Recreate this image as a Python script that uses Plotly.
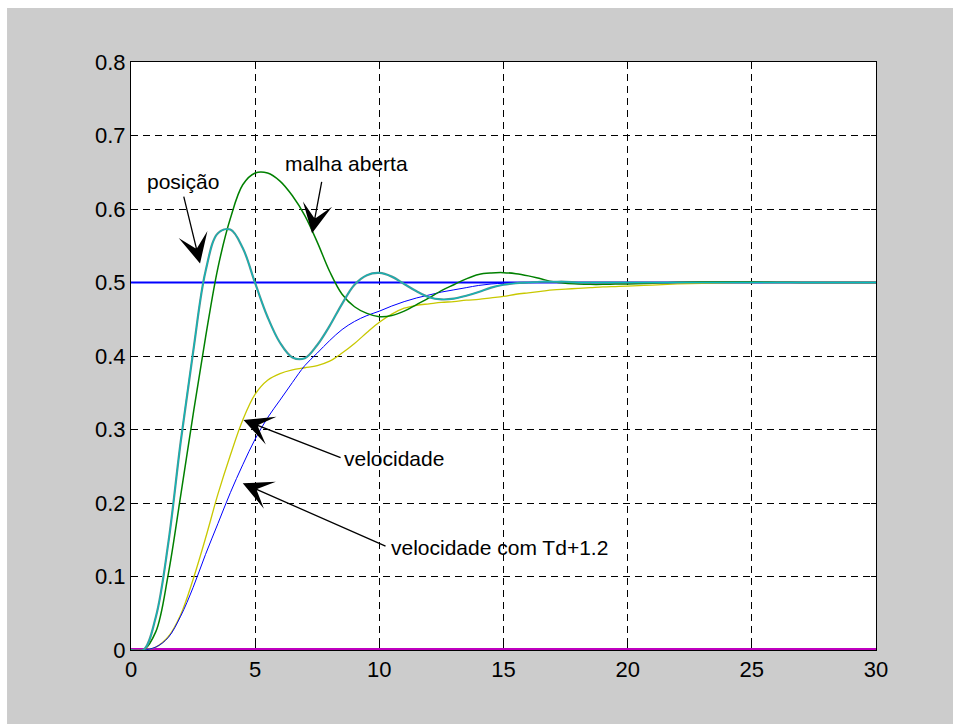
import plotly.graph_objects as go

# time axis (s)
t = [0, 0.5, 1, 1.5, 2, 2.5, 3, 3.5, 4, 4.5, 5, 5.5, 6, 6.5, 7, 7.5, 8, 8.5, 9, 9.5,
     10, 10.5, 11, 11.5, 12, 12.5, 13, 13.5, 14, 14.5, 15, 15.5, 16, 16.5, 17, 17.5,
     18, 18.5, 19, 19.5, 20, 21, 22, 23, 24, 25, 26, 27, 28, 29, 30]

posicao = [0, 0.0, 0.045, 0.145, 0.283, 0.405, 0.515, 0.567, 0.572, 0.547, 0.499, 0.453,
           0.418, 0.398, 0.397, 0.415, 0.441, 0.471, 0.497, 0.510, 0.513, 0.508, 0.498,
           0.488, 0.480, 0.477, 0.478, 0.482, 0.487, 0.493, 0.497, 0.499, 0.500, 0.501,
           0.501, 0.501, 0.500, 0.500, 0.500, 0.500, 0.500, 0.5, 0.5, 0.5, 0.5, 0.5,
           0.5, 0.5, 0.5, 0.5, 0.5]

malha_aberta = [0, 0.0, 0.025, 0.103, 0.21, 0.32, 0.425, 0.52, 0.587, 0.633, 0.649, 0.649,
                0.638, 0.618, 0.591, 0.555, 0.515, 0.484, 0.467, 0.458, 0.4535, 0.455,
                0.461, 0.47, 0.479, 0.489, 0.497, 0.505, 0.511, 0.513, 0.5134, 0.512,
                0.509, 0.505, 0.501, 0.499, 0.498, 0.4975, 0.4975, 0.4978, 0.498, 0.499,
                0.5005, 0.501, 0.501, 0.501, 0.5005, 0.5, 0.5, 0.5, 0.5]

velocidade = [0, 0.0, 0.004, 0.018, 0.048, 0.096, 0.152, 0.212, 0.265, 0.313, 0.348, 0.367,
              0.376, 0.381, 0.384, 0.387, 0.393, 0.404, 0.417, 0.432, 0.446, 0.457, 0.465,
              0.469, 0.471, 0.473, 0.474, 0.476, 0.477, 0.479, 0.481, 0.484, 0.486, 0.488,
              0.490, 0.491, 0.492, 0.493, 0.494, 0.4945, 0.495, 0.4965, 0.498, 0.499,
              0.4995, 0.5, 0.5, 0.5, 0.5, 0.5, 0.5]

velocidade_td = [0, 0.0, 0.004, 0.017, 0.046, 0.085, 0.13, 0.172, 0.214, 0.252, 0.287, 0.316,
                 0.34, 0.364, 0.387, 0.404, 0.421, 0.436, 0.447, 0.455, 0.461, 0.468, 0.474,
                 0.479, 0.483, 0.487, 0.49, 0.493, 0.496, 0.498, 0.499, 0.4995, 0.5, 0.5005,
                 0.5005, 0.5, 0.5, 0.5, 0.5, 0.5, 0.5, 0.5, 0.5, 0.5, 0.5, 0.5, 0.5, 0.5,
                 0.5, 0.5, 0.5]

referencia_t = [0, 30]
referencia = [0.5, 0.5]
zero_line = [0, 0]

x_ticks = [0, 5, 10, 15, 20, 25, 30]
y_ticks = [0, 0.1, 0.2, 0.3, 0.4, 0.5, 0.6, 0.7, 0.8]
y_tick_labels = ["0", "0.1", "0.2", "0.3", "0.4", "0.5", "0.6", "0.7", "0.8"]

FONT = "Liberation Sans, Arial, sans-serif"
SM = 1.0

fig = go.Figure()
fig.add_trace(go.Scatter(x=referencia_t, y=zero_line, mode="lines",
                         line=dict(color="#bf00bf", width=4)))
fig.add_trace(go.Scatter(x=referencia_t, y=referencia, mode="lines",
                         line=dict(color="#0000ff", width=2)))
fig.add_trace(go.Scatter(x=t, y=velocidade, mode="lines",
                         line=dict(color="#c8c800", width=1.3, shape="spline", smoothing=SM)))
fig.add_trace(go.Scatter(x=t, y=velocidade_td, mode="lines",
                         line=dict(color="#0000ff", width=1, shape="spline", smoothing=SM)))
fig.add_trace(go.Scatter(x=t, y=malha_aberta, mode="lines",
                         line=dict(color="#008000", width=1.5, shape="spline", smoothing=SM)))
fig.add_trace(go.Scatter(x=t, y=posicao, mode="lines",
                         line=dict(color="#5a8f8f", width=2.2, shape="spline", smoothing=SM)))
fig.add_trace(go.Scatter(x=t, y=posicao, mode="lines",
                         line=dict(color="#00bfbf", width=1, shape="spline", smoothing=SM)))

axis_common = dict(
    showgrid=True, gridcolor="black", gridwidth=1, griddash="7px,5px",
    showline=True, linecolor="black", linewidth=1, mirror="ticks",
    ticks="inside", ticklen=5, tickcolor="black", zeroline=False,
    layer="below traces",
    tickfont=dict(family=FONT, size=22, color="black"),
)
fig.update_xaxes(range=[0, 30], tickvals=x_ticks, **axis_common)
fig.update_yaxes(range=[0, 0.8], tickvals=y_ticks, ticktext=y_tick_labels, **axis_common)

# background: gray figure area with white plot box
shapes = [
    dict(type="rect", xref="paper", yref="paper", x0=-0.1664, x1=1.11, y0=-0.13, y1=1.0918,
         fillcolor="#cccccc", line=dict(width=0), layer="below"),
    dict(type="rect", xref="paper", yref="paper", x0=0, x1=1, y0=0, y1=1,
         fillcolor="white", line=dict(width=0), layer="below"),
]

annotations = []
labels = [
    ("posição", 2.08, 0.637),
    ("malha aberta", 8.69, 0.662),
    ("velocidade", 10.6, 0.2605),
    ("velocidade com Td+1.2", 14.84, 0.1395),
]
for txt, lx, ly in labels:
    annotations.append(dict(x=lx, y=ly, xref="x", yref="y", text=txt, showarrow=False,
                            font=dict(family=FONT, size=21, color="black"),
                            xanchor="center", yanchor="middle"))

arrows = [
    ((2.11, 0.619), (2.78, 0.526)),
    ((7.69, 0.639), (7.29, 0.567)),
    ((8.5, 0.261), (4.53, 0.313)),
    ((10.31, 0.1405), (4.5, 0.2268)),
]
for (ax_, ay_), (tx, ty) in arrows:
    annotations.append(dict(x=tx, y=ty, ax=ax_, ay=ay_, xref="x", yref="y",
                            axref="x", ayref="y", text="", showarrow=True,
                            arrowhead=3, arrowsize=3.8, arrowwidth=1.3, arrowcolor="black",
                            standoff=0, startstandoff=0))

fig.update_layout(
    width=953, height=724,
    margin=dict(l=131, r=77, t=62, b=74),
    paper_bgcolor="white", plot_bgcolor="white",
    showlegend=False,
    shapes=shapes,
    annotations=annotations,
    font=dict(family=FONT, size=21, color="black"),
)

fig.write_html("out.html")
